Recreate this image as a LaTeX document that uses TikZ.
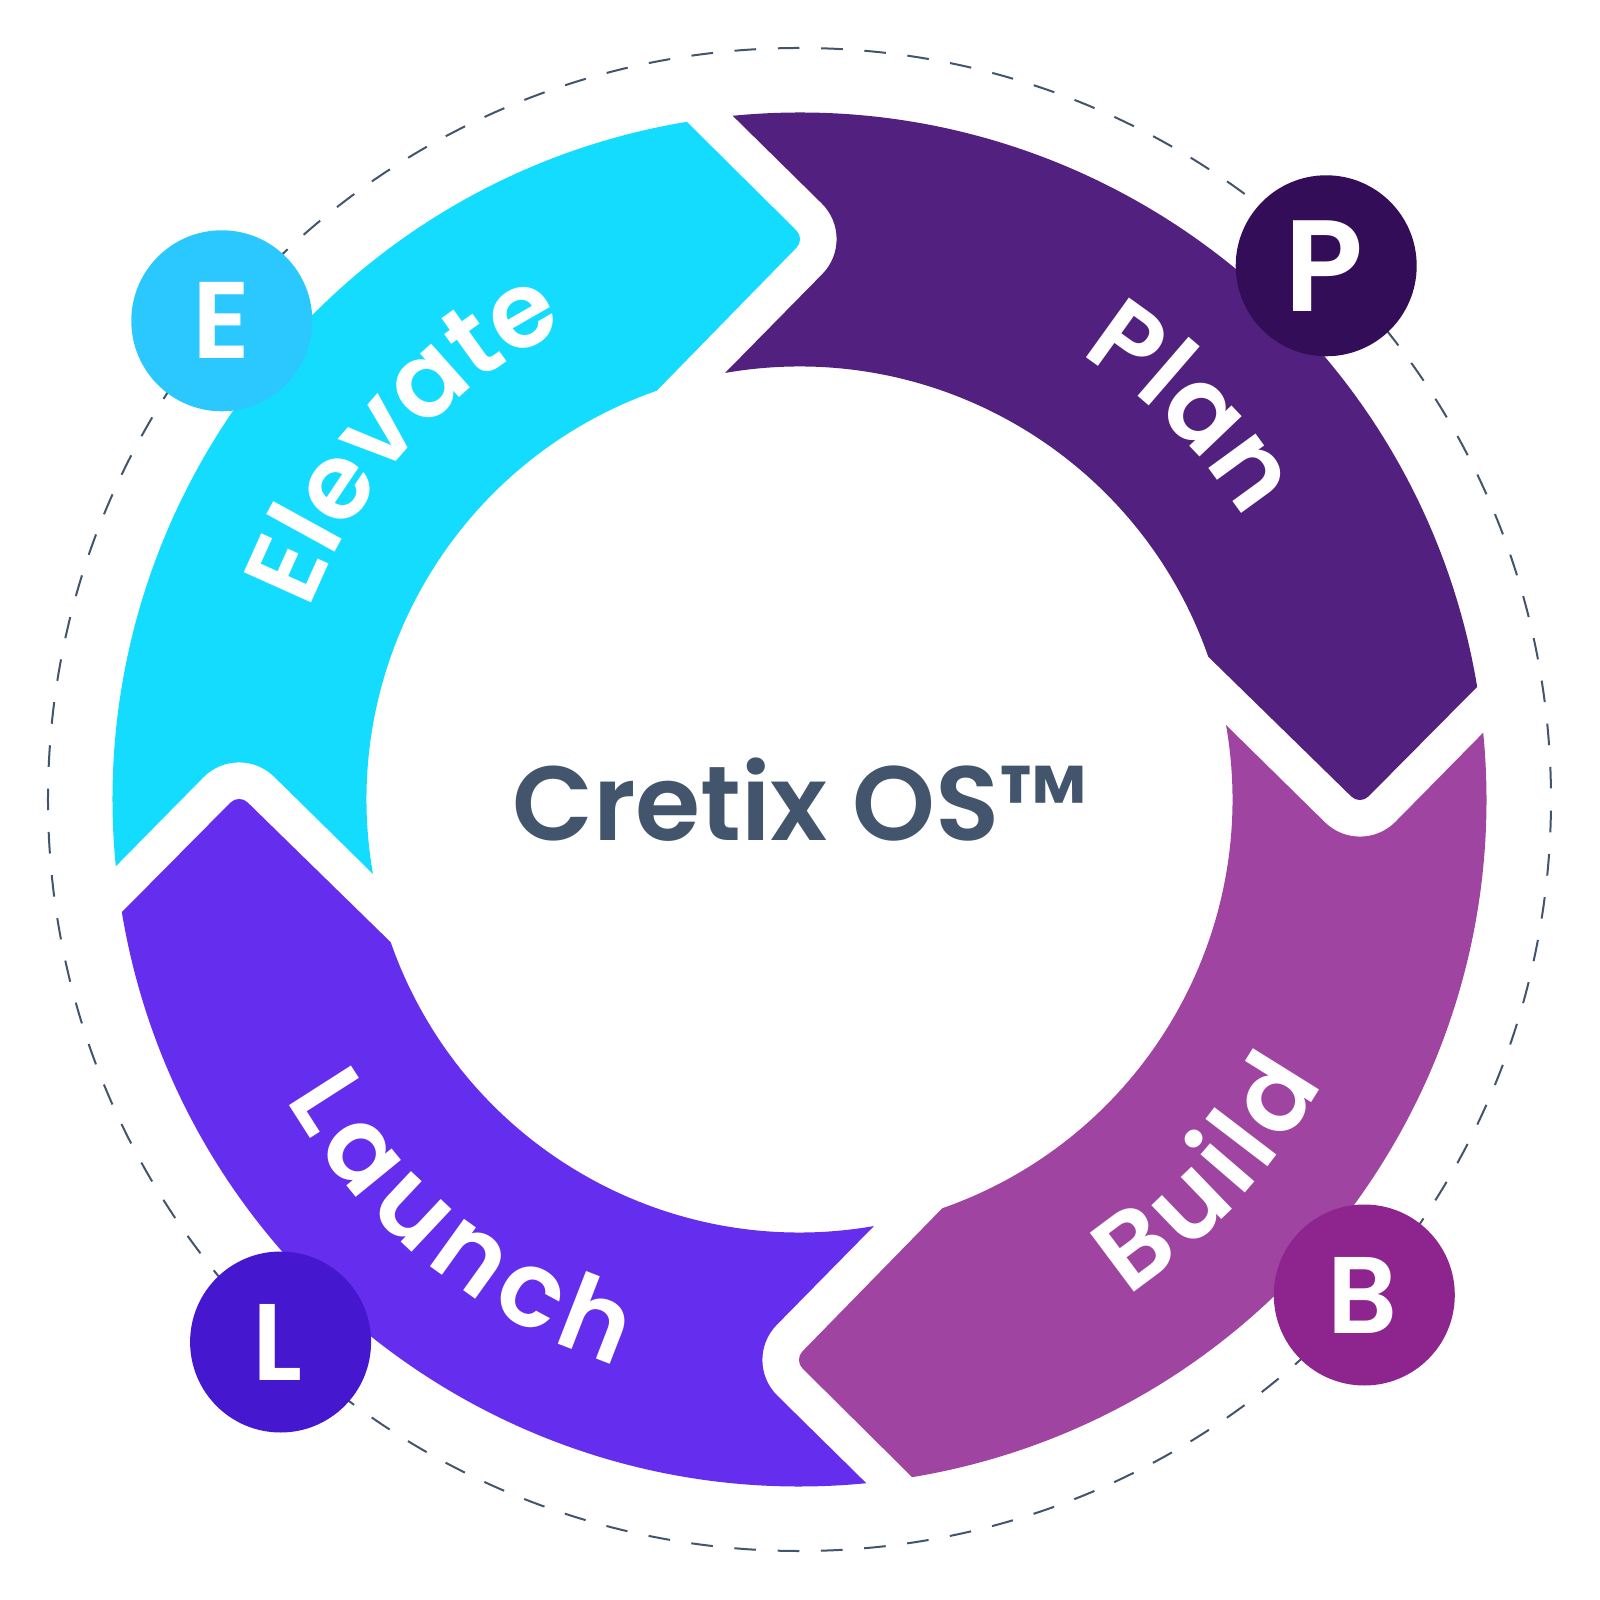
\documentclass[tikz,border=0pt]{standalone}
\usepackage{fontspec}
\usetikzlibrary{decorations.text}
\newfontfamily\popfont{Poppins SemiBold}
\newcommand{\bandfont}{\popfont\fontsize{30}{32}\selectfont}
\definecolor{planband}{HTML}{52217F}
\definecolor{buildband}{HTML}{9F44A0}
\definecolor{launchband}{HTML}{652DEE}
\definecolor{elevateband}{HTML}{14DCFF}
\definecolor{planbadge}{HTML}{330D58}
\definecolor{buildbadge}{HTML}{8E258F}
\definecolor{launchbadge}{HTML}{4518D0}
\definecolor{elevatebadge}{HTML}{2BC7FF}
\definecolor{slate}{HTML}{42556C}
\tikzset{
  badge/.style={circle,minimum size=18.1cm/10,inner sep=0pt,text=white,font=\popfont\fontsize{31}{34}\selectfont},
  bandtext/.style={decorate,decoration={text along path,text align=center,text color=white,text={|\bandfont|#1}}},
  widetext/.style 2 args={decorate,decoration={text effects along path,text={#1},text align=center,
    text effects/.cd,text along path,
    characters={font=\bandfont,text=white,inner xsep=#2},
    character widths={font=\bandfont,inner xsep=#2}}}
}
\begin{document}
\begin{tikzpicture}
  \useasboundingbox (-7.995,-8.005) rectangle (8.005,7.995);
  \draw[slate,line width=0.02cm,dash pattern=on 0.217cm off 0.2162cm,dash phase=0.323cm] (0,0) circle (7.515);
  \foreach \ang/\col in {0/planband,-90/buildband,-180/launchband,-270/elevateband} % one band, turned four times
    \fill[\col,rotate=\ang] (95.58:6.87) [rounded corners=0.5cm] -- (0.578,5.61) [sharp corners] -- (99.9:4.33)
      arc (99.9:19.25:4.33) [rounded corners=0.12cm] -- (5.605,-0.055) [sharp corners] -- (9.44:6.87)
      arc (9.44:95.58:6.87) -- cycle;
  \path[bandtext=Plan] (75:5.26) arc (75:15:5.26);
  \path[bandtext=Elevate] (172.6:5.26) arc (172.6:102.6:5.26);
  \path[widetext={Launch}{1.2pt}] (196.2:5.95) arc (196.2:266.2:5.95);
  \path[widetext={Build}{0.83pt}] (-72.5:5.95) arc (-72.5:-12.5:5.95);
  \node[badge,fill=planbadge,font=\popfont\fontsize{37}{40}\selectfont] (planbadge) at (5.267,5.337) {P\kern0.04cm};
  \node[badge,fill=buildbadge] (buildbadge) at (5.648,-4.955) {B\kern0.04cm};
  \node[badge,fill=launchbadge] (launchbadge) at (-5.189,-5.425) {L\kern0.06cm};
  \node[badge,fill=elevatebadge] (elevatebadge) at (-5.777,4.787) {E};
  \node[slate,font=\popfont\fontsize{30}{32}\selectfont] (title) at (0.01,0) {Cretix OS™};
\end{tikzpicture}
\end{document}
